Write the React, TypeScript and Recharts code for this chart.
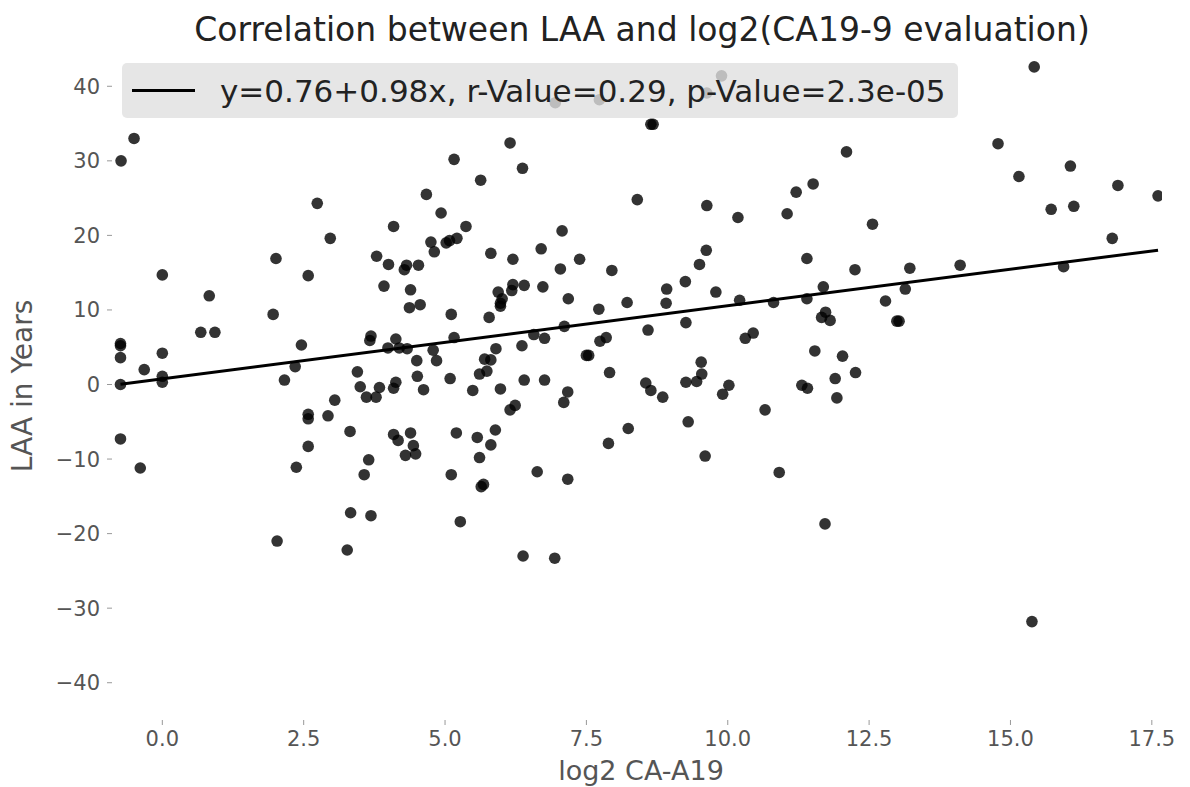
import React from 'react';
import { ScatterChart, Scatter, XAxis, YAxis } from 'recharts';

// log2 CA-A19 values (x) and LAA in years (y)
const caLog2 = [
  -0.5, -0.73, 2.74, 2.97, 2.01, 3.79,
  6.95, 7.73, 6.15, 5.16, 6.37, 5.63, 8.4, 4.67, 4.93, 4.09, 5.37, 7.07, 4.75, 4.81, 5.02, 5.08, 5.21,
  5.81, 6.2, 6.7, 7.38, 4.0, 4.32, 4.53, 4.28, 7.04, 7.95,
  8.64, 8.68, 9.89, 9.63, 12.1, 11.51, 11.21, 9.63, 10.18, 11.05, 12.56, 9.62, 9.5, 11.4, 12.25, 13.22,
  15.42, 14.78, 16.06, 15.15, 16.9, 17.61, 15.72, 16.12, 16.8, 14.11, 15.94,
  0.0, 2.58, 0.83, 1.96, 0.68, 0.93, -0.74, -0.74, 2.46, 0.0, -0.74, -0.32, 2.35, 0.0, 0.0, -0.74,
  2.16, 3.69, 3.67, 3.45, 3.5, 3.61, 3.78, 3.84, 3.05, 2.93, 2.58, 2.58, 3.32, -0.74, 2.58, 3.65,
  -0.39, 2.37, 3.57,
  3.92, 4.39, 4.37, 4.56, 5.11, 5.78, 5.94, 6.2, 6.18, 6.4, 6.73, 6.01, 5.98, 5.98, 7.18, 7.72, 8.22,
  4.13, 3.99, 4.19, 4.33, 5.16, 4.79, 4.5, 4.85, 4.51, 5.09, 4.62, 4.13, 4.09, 5.9, 5.7, 5.81, 5.61,
  5.74, 5.49, 5.98, 6.36, 6.57, 6.76, 7.11, 6.4, 6.76, 7.5, 7.54, 7.74, 7.85, 7.91, 8.59, 8.55, 7.17,
  7.1, 6.24, 6.15, 4.09, 4.17, 4.39, 4.44, 4.48, 4.3, 5.2, 5.57, 5.89, 5.81, 5.61, 5.11, 5.64, 5.68,
  6.63, 7.17, 7.89, 8.24,
  8.92, 8.91, 9.25, 9.26, 9.79, 10.21, 10.81, 11.4, 11.69, 11.73, 11.66, 11.81, 12.79, 13.14, 12.99,
  13.03, 10.31, 10.45, 11.54, 12.03, 12.26, 9.53, 9.54, 9.26, 9.45, 8.64, 8.85, 10.02, 9.91, 11.31,
  11.41, 11.9, 11.93, 10.66, 9.3, 9.6, 10.91,
  3.33, 3.69, 2.03, 3.27, 5.27, 6.38, 6.94, 11.72, 15.38,
];

const laaYears = [
  33.0, 30.0, 24.3, 19.6, 16.9, 17.2,
  37.8, 38.2, 32.4, 30.2, 29.0, 27.4, 24.8, 25.5, 23.0, 21.2, 21.2, 20.6, 19.1, 17.8, 19.0, 19.3, 19.6,
  17.6, 16.8, 18.2, 16.8, 16.1, 16.0, 16.0, 15.4, 15.5, 15.3,
  34.9, 34.9, 41.4, 39.1, 31.2, 26.9, 25.8, 24.0, 22.4, 22.9, 21.5, 18.0, 16.1, 16.9, 15.4, 15.6,
  42.6, 32.3, 29.3, 27.9, 26.7, 25.3, 23.5, 23.9, 19.6, 16.0, 15.8,
  14.7, 14.6, 11.9, 9.4, 7.0, 7.0, 5.5, 5.2, 5.3, 4.2, 3.6, 2.0, 2.4, 1.1, 0.3, 0.0,
  0.6, 6.5, 5.9, 1.7, -0.3, -1.7, -1.7, -0.4, -2.1, -4.2, -4.0, -4.6, -6.3, -7.3, -8.3, -10.1,
  -11.2, -11.1, -12.1,
  13.2, 12.7, 10.3, 10.7, 9.4, 9.0, 12.4, 13.4, 12.6, 13.3, 13.1, 11.5, 10.9, 10.5, 11.5, 10.1, 11.0,
  6.1, 4.9, 4.9, 4.8, 6.3, 4.6, 3.2, 3.2, 1.1, 0.8, -0.7, 0.3, -0.5, 4.8, 3.4, 3.3, 1.4,
  1.8, -0.8, -0.6, 5.2, 6.7, 6.2, 7.8, 0.6, 0.6, 3.9, 3.9, 5.8, 6.3, 1.6, 7.3, 0.2, -1.0,
  -2.4, -2.8, -3.4, -6.7, -7.5, -6.5, -8.2, -9.3, -9.5, -6.5, -7.1, -6.1, -8.1, -9.8, -12.1, -13.7, -13.4,
  -11.7, -12.7, -7.9, -5.9,
  12.8, 10.9, 13.8, 8.3, 12.4, 11.3, 11.0, 11.5, 13.1, 9.7, 9.0, 8.6, 11.2, 12.8, 8.5,
  8.5, 6.2, 6.9, 4.5, 3.8, 1.6, 3.0, 1.4, 0.3, 0.4, -0.8, -1.7, -0.1, -1.3, -0.1,
  -0.5, 0.8, -1.8, -3.4, -5.0, -9.6, -11.8,
  -17.2, -17.6, -21.0, -22.2, -18.4, -23.0, -23.3, -18.7, -31.8,
];

// end points of the fitted line y = 0.76 + 0.98x
const fitX = [-0.74, 17.61];
const fitY = [0.03, 18.02];

const xTicks = [0, 2.5, 5, 7.5, 10, 12.5, 15, 17.5];
const yTicks = [-40, -30, -20, -10, 0, 10, 20, 30, 40];

const points = caLog2.map((x, i) => ({ x, y: laaYears[i] }));
const fitLine = fitX.map((x, i) => ({ x, y: fitY[i] }));

const FONT = '"DejaVu Sans", sans-serif';
const TICK_COLOR = '#555';

const Dot = (props: any) => (
  <circle cx={props.cx} cy={props.cy} r={5.8} fill="#000" fillOpacity={0.8} />
);

const fmtY = (v: number) => (v < 0 ? '\u2212' + Math.abs(v) : String(v));

export default function App() {
  return (
    <div style={{ position: 'absolute', left: 0, top: 0, width: 1190, height: 787, background: '#fff' }}>
      <ScatterChart
        width={1190}
        height={787}
        margin={{ top: 49, right: 28, bottom: 7, left: 12 }}
      >
        <XAxis
          type="number"
          dataKey="x"
          domain={[-0.89, 17.68]}
          allowDataOverflow
          ticks={xTicks}
          interval={0}
          tickFormatter={(v: number) => v.toFixed(1)}
          height={60}
          axisLine={false}
          tickLine={{ stroke: '#999' }}
          tickSize={5}
          tickMargin={6}
          tick={{ fontSize: 21, fill: TICK_COLOR, fontFamily: FONT }}
        />
        <YAxis
          type="number"
          dataKey="y"
          domain={[-45, 45]}
          allowDataOverflow
          ticks={yTicks}
          interval={0}
          tickFormatter={fmtY}
          width={100}
          axisLine={false}
          tickLine={{ stroke: '#999' }}
          tickSize={5}
          tickMargin={7}
          tick={{ fontSize: 21, fill: TICK_COLOR, fontFamily: FONT }}
        />
        <Scatter data={points} shape={Dot} isAnimationActive={false} />
        <Scatter
          data={fitLine}
          line={{ stroke: '#000', strokeWidth: 3 }}
          shape={() => <g />}
          isAnimationActive={false}
        />
      </ScatterChart>

      <div
        style={{
          position: 'absolute', left: 642, top: 10, transform: 'translateX(-50%)',
          whiteSpace: 'nowrap', fontFamily: FONT, fontSize: 33, color: '#222',
        }}
      >
        Correlation between LAA and log2(CA19-9 evaluation)
      </div>

      <div
        style={{
          position: 'absolute', left: 122, top: 63, width: 836, height: 55,
          background: 'rgba(224,224,224,0.8)', borderRadius: 5,
          display: 'flex', alignItems: 'center', fontFamily: FONT,
        }}
      >
        <div style={{ width: 63, height: 3, background: '#000', marginLeft: 10, marginRight: 25 }} />
        <span style={{ fontSize: 31, color: '#222', whiteSpace: 'nowrap' }}>
          y=0.76+0.98x, r-Value=0.29, p-Value=2.3e-05
        </span>
      </div>

      <div
        style={{
          position: 'absolute', left: 641, top: 755, transform: 'translateX(-50%)',
          whiteSpace: 'nowrap', fontFamily: FONT, fontSize: 27, color: TICK_COLOR,
        }}
      >
        log2 CA-A19
      </div>

      <div
        style={{
          position: 'absolute', left: 22, top: 386, transform: 'translate(-50%, -50%) rotate(-90deg)',
          whiteSpace: 'nowrap', fontFamily: FONT, fontSize: 28, color: TICK_COLOR,
        }}
      >
        LAA in Years
      </div>
    </div>
  );
}
